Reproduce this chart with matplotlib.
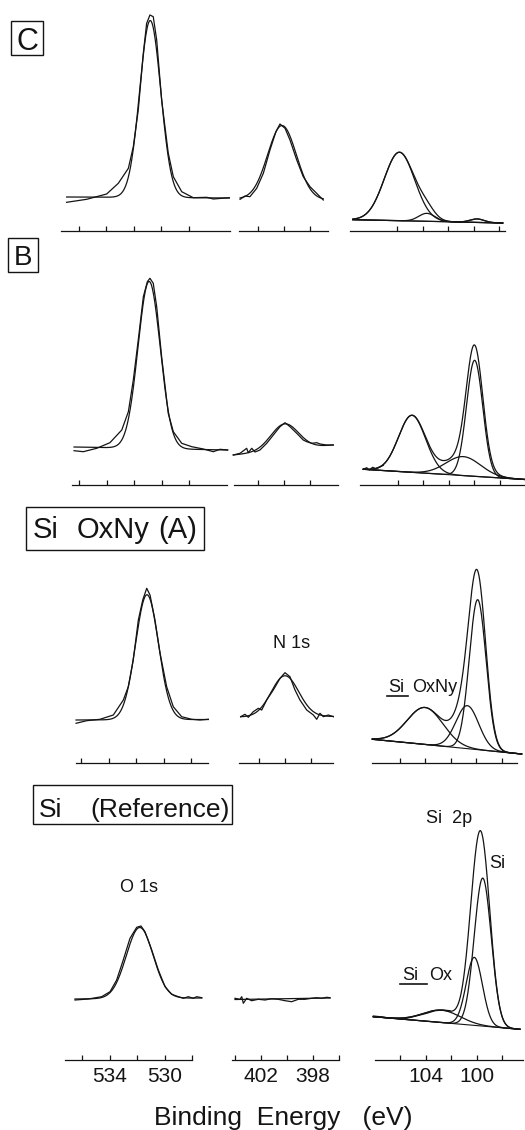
import numpy as np
import matplotlib
matplotlib.use("Agg")
import matplotlib.pyplot as plt
from matplotlib.patches import Rectangle
from matplotlib.lines import Line2D

plt.rcParams['font.family'] = ['Liberation Sans', 'DejaVu Sans']

# ======================= DATA =======================
SAMPLES = ['C', 'B', 'A', 'Reference']

# ---- O 1s : measured spectra (binding energy eV, intensity a.u.) ----
O1S_MEAS_E = [
    [536.9, 535.44, 533.99, 533.14, 532.41, 532.05, 531.69, 531.32, 531.08, 530.84,
     530.60, 530.35, 529.99, 529.51, 529.14, 528.53, 527.69, 526.71, 526.23, 525.07],
    [536.36, 535.69, 534.71, 533.75, 532.89, 532.41, 532.05, 531.69, 531.32, 531.03, 530.84,
     530.60, 530.35, 529.99, 529.51, 529.14, 528.53, 527.80, 526.96, 526.23, 525.75, 525.19],
    [536.36, 535.59, 534.62, 533.65, 532.92, 532.56, 532.20, 531.83, 531.51, 531.22,
     530.98, 530.62, 530.25, 529.77, 529.29, 528.68, 527.95, 527.35, 526.74],
    [536.51, 535.54, 534.57, 533.96, 533.48, 533.0, 532.51, 532.02, 531.71, 531.42,
     530.93, 530.45, 529.96, 529.48, 528.99, 528.63, 528.27, 527.91, 527.66, 527.29],
]
O1S_MEAS_I = [
    [28.7, 31.7, 37, 47.7, 62.7, 84.3, 121, 178, 207.7, 216,
     214.3, 191, 131, 78, 54.3, 39.3, 33.3, 33.7, 32, 33.3],
    [34.3, 33.3, 36.7, 42.3, 55, 73.3, 105, 145, 188.3, 203.3, 206.7,
     201.7, 178.3, 128.3, 71.7, 53.3, 41.7, 38.3, 36, 33.3, 35.7, 35],
    [39.7, 42.3, 43.7, 48, 63, 76.3, 103, 143, 163, 174.7,
     168, 143, 109.7, 76.3, 56.3, 46.3, 43.7, 43, 43.7],
    [60, 61, 63.3, 68.3, 80, 100, 121.7, 132.7, 134, 128.3,
     110, 90, 73.3, 65.7, 63.3, 61.7, 63.3, 61.7, 63.3, 62.3],
]
# O 1s Gaussian fits: centre (eV), height, FWHM (eV); background at the two ends
O1S_CENTER = [530.82, 530.90, 531.20, 531.80]
O1S_HEIGHT = [177, 167, 125, 71]
O1S_FWHM = [1.80, 1.90, 1.96, 2.30]
O1S_BG = [(34, 33), (38, 35), (43, 43.5), (61, 62)]

# ---- N 1s ----
N1S_MEAS_E = [
    [403.38, 403.0, 402.62, 402.1, 401.59, 401.08, 400.62, 400.31, 399.92, 399.54,
     399.02, 398.52, 398.0, 397.36, 396.98],
    [403.9, 403.38, 402.87, 402.75, 402.48, 402.23, 401.85, 401.33, 400.82, 400.31,
     399.92, 399.54, 399.02, 398.52, 398.25, 397.87, 397.48, 397.23, 396.72, 396.21],
    [403.41, 403.08, 402.82, 402.44, 402.05, 401.79, 401.41, 400.90, 400.38, 400.0,
     399.62, 399.23, 398.85, 398.33, 397.82, 397.56, 397.31, 397.05, 396.67, 396.28],
    [404.0, 403.62, 403.48, 403.36, 403.1, 402.72, 402.21, 401.69, 401.18, 400.67,
     400.15, 399.64, 399.13, 398.62, 398.1, 397.72, 397.33, 396.95, 396.69],
]
N1S_MEAS_I = [
    [31.7, 35, 34.3, 42.7, 57.7, 81, 99.3, 107, 102.7, 91, 71, 54.3, 44.3, 36, 31],
    [30, 31.7, 36.7, 32.3, 36.7, 33, 35, 41.7, 50, 58.3,
     62.3, 58.3, 51.7, 45, 43.3, 41.7, 42.3, 41, 40, 40],
    [46.3, 48.7, 45.7, 51.3, 54.7, 53, 63, 73, 84.7, 90.3,
     86.3, 73, 63, 53, 48, 43.7, 49.7, 46.3, 48, 46.3],
    [61.7, 60.7, 63.3, 56.7, 61.7, 59.3, 60.7, 60, 61.3, 60.7,
     59.3, 58.3, 60.7, 60.7, 61.7, 62.3, 61.7, 62.7, 62.3],
]
N1S_CENTER = [400.15, 399.95, 400.0, 400.0]
N1S_HEIGHT = [74, 26, 41, 0]
N1S_FWHM = [2.6, 2.5, 2.5, 2.5]
N1S_BG = [(32, 31), (30, 40), (46, 46.5), (60.5, 62)]

# ---- Si 2p : three Gaussian components per sample ----
SI_RANGE = [(109.51, 97.75), (108.68, 96.0), (108.13, 96.42), (108.13, 96.63)]
SI_BG = [(11.3, 8.0), (15.7, 5.5), (23.7, 9.0), (43.3, 30.7)]
SI_CENTER = [[105.85, 103.70, 99.76], [104.86, 100.84, 99.95],
             [104.0, 100.68, 99.87], [102.77, 100.21, 99.55]]
SI_HEIGHT = [[68.5, 8, 3.5], [57, 19, 116], [37, 43, 150], [12.4, 68, 148]]
SI_FWHM = [[2.8, 1.5, 1.3], [2.5, 3.2, 1.5], [3.3, 2.1, 1.55], [3.4, 1.5, 1.57]]
# measured (noisy) onset of the Si 2p spectra where it departs from the envelope
SI_MEAS_E = [[], [108.68, 108.42, 108.21, 107.95, 107.69, 107.37, 107.11], [],
             [108.13, 107.61, 107.22, 106.82, 106.3, 105.91, 105.51, 105.0, 104.47,
              103.95, 103.29, 102.64, 102.12]]
SI_MEAS_I = [[], [15.7, 17.3, 15, 17.7, 16.3, 18.3, 19.7], [],
             [44, 43.3, 42.7, 41.7, 41.7, 40.7, 41.7, 43.3, 45, 46.7, 49.3, 50, 49.3]]

# ticks and labels
O1S_TICKS = [536, 534, 532, 530, 528]
O1S_LABELS = ['', '534', '', '530', '']
N1S_TICKS = [402, 400, 398]
N1S_TICKS_REF = [404, 402, 400, 398, 396]
N1S_LABELS_REF = ['', '402', '', '398', '']
SI_TICKS = [106, 104, 102, 100, 98]
SI_LABELS = ['', '104', '', '100', '']

# ======================= LAYOUT =======================
W, H = 525, 1130
INK = '#141414'
LW = 0.9
PH = 230  # panel height in px (1 intensity unit = 1 px)
ROW_Y = [231, 485, 763, 1060]
SPANS = {
    'O': [(61, 230), (72, 227), (76, 208), (65, 192)],
    'N': [(239, 328), (234, 338), (239, 333), (232, 339)],
    'S': [(350, 505), (360, 524), (372, 517), (375, 523)],
}
SHIFT = {'O': [-3, -3, -1, 0], 'N': [-3, -3, -2, 0], 'S': [-3, -3, -1, 0]}
COLMAP = {'O': (536, 82, 13.75), 'N': (402, 261, 13.0), 'S': (100, 477, 12.75)}

fig = plt.figure(figsize=(W / 100, H / 100), dpi=100)
fig.patch.set_facecolor('white')


def gauss(E, c, h, w):
    return h * np.exp(-4 * np.log(2) * ((E - c) / w) ** 2)


def linbg(E, Ea, Eb, Ia, Ib):
    return Ia + (Ib - Ia) * (E - Ea) / (Eb - Ea)


def panel(col, r):
    x0, x1 = SPANS[col][r]
    E0, xr, s = COLMAP[col]
    d = SHIFT[col][r]
    el = E0 - (x0 - d - xr) / s
    er = E0 - (x1 - d - xr) / s
    ax = fig.add_axes([x0 / W, 1 - ROW_Y[r] / H, (x1 - x0) / W, PH / H])
    ax.set_xlim(el, er)
    ax.set_ylim(0, PH)
    ax.patch.set_visible(False)
    for sp in ('left', 'right', 'top'):
        ax.spines[sp].set_visible(False)
    ax.spines['bottom'].set_linewidth(0.9)
    ax.spines['bottom'].set_color(INK)
    ax.set_yticks([])
    ax.tick_params(axis='x', direction='in', length=3.6, width=0.9, color=INK,
                   labelsize=15, pad=5, labelcolor=INK)
    return ax


for r in range(4):
    ref = (r == 3)
    # ---------- O 1s ----------
    ax = panel('O', r)
    me, mi = O1S_MEAS_E[r], O1S_MEAS_I[r]
    ax.plot(me, mi, color=INK, lw=LW, clip_on=False)
    E = np.linspace(me[0], me[-1], 400)
    fit = linbg(E, me[0], me[-1], *O1S_BG[r]) + gauss(E, O1S_CENTER[r], O1S_HEIGHT[r], O1S_FWHM[r])
    ax.plot(E, fit, color=INK, lw=LW, clip_on=False)
    ax.set_xticks(O1S_TICKS)
    ax.set_xticklabels(O1S_LABELS if ref else [''] * len(O1S_TICKS))

    # ---------- N 1s ----------
    ax = panel('N', r)
    me, mi = N1S_MEAS_E[r], N1S_MEAS_I[r]
    ax.plot(me, mi, color=INK, lw=LW, clip_on=False)
    E = np.linspace(me[0], me[-1], 400)
    fit = linbg(E, me[0], me[-1], *N1S_BG[r]) + gauss(E, N1S_CENTER[r], N1S_HEIGHT[r], N1S_FWHM[r])
    ax.plot(E, fit, color=INK, lw=LW, clip_on=False)
    if ref:
        ax.set_xticks(N1S_TICKS_REF)
        ax.set_xticklabels(N1S_LABELS_REF)
    else:
        ax.set_xticks(N1S_TICKS)
        ax.set_xticklabels([''] * len(N1S_TICKS))

    # ---------- Si 2p ----------
    ax = panel('S', r)
    ea, eb = SI_RANGE[r]
    E = np.linspace(ea, eb, 600)
    base = linbg(E, ea, eb, *SI_BG[r])
    ax.plot(E, base, color=INK, lw=0.8, clip_on=False)
    total = base.copy()
    for c, h, w in zip(SI_CENTER[r], SI_HEIGHT[r], SI_FWHM[r]):
        g = gauss(E, c, h, w)
        total += g
        ax.plot(E, base + g, color=INK, lw=LW, clip_on=False)
    ax.plot(E, total, color=INK, lw=LW, clip_on=False)
    if SI_MEAS_E[r]:
        ax.plot(SI_MEAS_E[r], SI_MEAS_I[r], color=INK, lw=LW, clip_on=False)
    ax.set_xticks(SI_TICKS)
    ax.set_xticklabels(SI_LABELS if ref else [''] * len(SI_TICKS))


# ======================= TEXT =======================
def ftext(x, y, s, size, ha='center'):
    fig.text(x / W, 1 - y / H, s, fontsize=size, ha=ha, va='baseline', color=INK)


def box(x0, y0, x1, y1):
    fig.add_artist(Rectangle((x0 / W, 1 - y1 / H), (x1 - x0) / W, (y1 - y0) / H,
                             transform=fig.transFigure, fill=False, lw=1.0, ec=INK))


def underline(x0, x1, y):
    fig.add_artist(Line2D([x0 / W, x1 / W], [1 - y / H] * 2, transform=fig.transFigure,
                          lw=1.2, color=INK))


box(11, 21, 43, 55)
ftext(27, 50, SAMPLES[0], 22)
box(8, 238, 38, 272)
ftext(23.5, 265, SAMPLES[1], 20)

box(26, 507, 204, 550)
ftext(33, 538.5, 'Si', 21, ha='left')
ftext(77, 538.5, 'OxNy', 21, ha='left')
ftext(158, 538.5, '(' + SAMPLES[2] + ')', 21, ha='left')

box(33, 785, 232, 824)
ftext(39, 817, 'Si', 19, ha='left')
ftext(90, 817, '(' + SAMPLES[3] + ')', 19, ha='left')

ftext(292, 648, 'N 1s', 13)
ftext(388, 692, 'Si', 13, ha='left')
ftext(412, 692, 'OxNy', 13, ha='left')
underline(387, 408, 695.5)

ftext(449, 823, 'Si  2p', 13)
ftext(497, 868, 'Si', 13)
ftext(402, 980, 'Si', 13, ha='left')
ftext(429, 980, 'Ox', 13, ha='left')
underline(400, 427, 983.5)
ftext(139, 892, 'O 1s', 13)

ftext(283.5, 1125, 'Binding  Energy   (eV)', 19)

fig.savefig('out.png', dpi=100, facecolor='white')
